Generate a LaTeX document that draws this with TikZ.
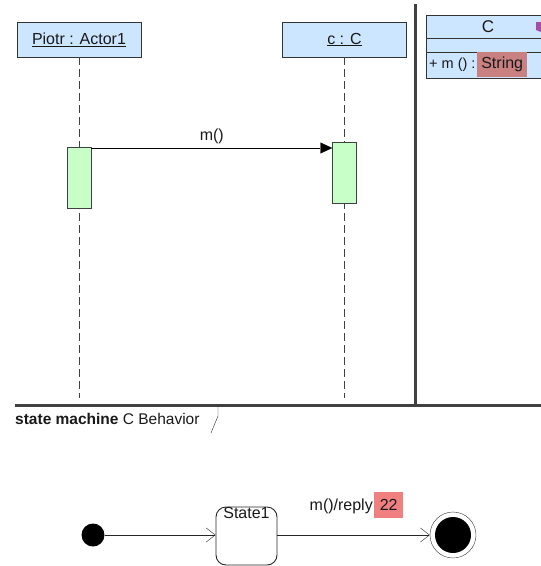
\documentclass[tikz,border=0pt]{standalone}
\usepackage{fontspec}
\setmainfont{Liberation Sans}
\usetikzlibrary{arrows.meta}
\definecolor{headblue}{HTML}{CCE6FF}
\definecolor{actgreen}{HTML}{C8FFC8}
\definecolor{strred}{HTML}{C88080}
\definecolor{numred}{HTML}{F08080}
\definecolor{frame}{HTML}{404040}
\begin{document}
\begin{tikzpicture}[x=1pt,y=-1pt,
  every node/.style={font=\fontsize{16}{18}\selectfont, text=black!90},
  lifehead/.style={draw=black!80, fill=headblue, minimum width=124pt, minimum height=35pt, inner sep=0pt},
  lifeline/.style={draw=black!75, dash pattern=on 8pt off 4pt},
  activation/.style={draw=black!75, fill=actgreen, minimum width=24pt, minimum height=61pt, inner sep=0pt},
  msg/.style={draw=black, -{Triangle[length=12pt,width=11pt]}},
  clspart/.style={draw=black!80, fill=headblue, minimum width=124pt, inner sep=0pt},
  hilite/.style={inner sep=1.5pt, anchor=west, minimum height=25pt},
  framerule/.style={draw=frame, line width=3pt},
  initstate/.style={circle, fill=black, minimum size=23pt, inner sep=0pt},
  statebox/.style={draw=black!85, line width=0.9pt, rounded corners=10pt, minimum width=61pt, minimum height=58pt, inner sep=0pt},
  finalstate/.style={circle, draw=black!80, minimum size=46pt, inner sep=0pt},
  finaldot/.style={circle, fill=black, minimum size=36pt, inner sep=0pt},
  trans/.style={draw=black!85, -{Straight Barb[length=9pt,width=14pt]}}
]
\useasboundingbox (0,0) rectangle (541,566);
\clip (0,0) rectangle (541,566);

% sequence diagram
\node[lifehead] (piotr) at (79,39.5) {\underline{Piotr : Actor1}};
\node[lifehead] (cc) at (344.5,39.5) {\underline{c : C}};
\draw[lifeline] (piotr.south) -- (piotr.south |- 0,398);
\draw[lifeline] (cc.south) -- (cc.south |- 0,398);
\node[activation] (actL) at (79,177.5) {};
\node[activation] (actR) at (344.5,172.5) {};
\draw[msg] (actL.east |- 0,148) -- (actR.west |- 0,148) node[midway, above=1pt] {m()};

% class box
\node[clspart, minimum height=23pt] (clshead) at (488,26.5) {\fontsize{17}{19}\selectfont C};
\node[clspart, minimum height=14pt] (clsattr) at (488,45) {};
\node[clspart, minimum height=26pt] (clsops) at (488,65) {};
\node[anchor=west, inner sep=0pt] (opname) at (429,65) {\fontsize{14.5}{16}\selectfont + m () :};
\node[hilite, fill=strred, minimum width=50pt] (optype) at (477,64.5) {String};
\fill[violet!70] (536,22) -- (541,22) -- (541,32) -- (536,30) -- cycle;

% frames
\draw[framerule] (415,4) -- (415,405);
\draw[framerule] (15,405) -- (541,405);
\draw[draw=black!85] (218,405) -- (218,416) -- (211,433);
\node[anchor=base west, inner sep=0pt] (smlabel) at (15,424) {\fontsize{15.5}{17}\selectfont\textbf{state machine} C Behavior};

% state machine
\node[initstate] (init) at (93,535) {};
\node[statebox] (s1) at (246.5,536) {};
\node[anchor=north, inner sep=1pt] (s1name) at (s1.north) {State1};
\node[finalstate] (fin) at (453,535) {};
\node[finaldot] (findot) at (fin.center) {};
\draw[trans] (init) -- (s1.west |- init);
\draw[trans] (s1.east |- init) -- (fin.west);
\node[anchor=east, inner sep=0pt] (trlabel) at (373,506) {m()/reply};
\node[hilite, fill=numred, minimum width=29pt, minimum height=26pt] (trnum) at (374,505) {22};
\end{tikzpicture}
\end{document}
